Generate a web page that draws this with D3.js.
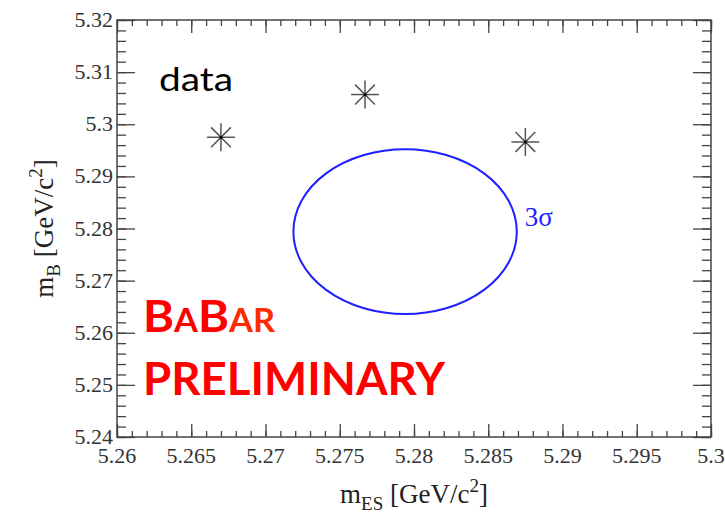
<!DOCTYPE html>
<html>
<head>
<meta charset="utf-8">
<script src="https://cdn.jsdelivr.net/npm/d3@7"></script>
<style>
  html, body { margin: 0; padding: 0; background: #fff; }
  svg { display: block; }
  .serif { font-family: "Liberation Serif", "Tinos", "DejaVu Serif", serif; }
</style>
</head>
<body>
<svg id="chart" width="725" height="516"></svg>
<script>
// Candidate events in the (mES, mB) plane
const eventMES = [5.2670, 5.2767, 5.2875];
const eventMB  = [5.2975, 5.3057, 5.2966];

// 3-sigma signal contour: centre and half-widths
const contourCentre = [5.2794, 5.2794];
const contourHalfWidth = [0.00752, 0.0158];
const contourLabel = "3σ";

// Axis ranges and tick labels
const xDomain = [5.26, 5.30];
const yDomain = [5.24, 5.32];
const xMajorTicks = [5.26, 5.265, 5.27, 5.275, 5.28, 5.285, 5.29, 5.295, 5.30];
const xTickLabels = ["5.26", "5.265", "5.27", "5.275", "5.28", "5.285", "5.29", "5.295", "5.3"];
const yMajorTicks = [5.24, 5.25, 5.26, 5.27, 5.28, 5.29, 5.30, 5.31, 5.32];
const yTickLabels = ["5.24", "5.25", "5.26", "5.27", "5.28", "5.29", "5.3", "5.31", "5.32"];
const xMinorStep = 0.001;
const yMinorStep = 0.002;

const svg = d3.select("#chart");
const plotLeft = 117, plotRight = 711, plotTop = 20, plotBottom = 437;

const x = d3.scaleLinear().domain(xDomain).range([plotLeft, plotRight]);
const y = d3.scaleLinear().domain(yDomain).range([plotBottom, plotTop]);

const axisColor = "#444";
const sans = "Lato, 'Open Sans', sans-serif";

const xMinor = d3.range(Math.round((xDomain[1] - xDomain[0]) / xMinorStep) + 1)
  .map(i => xDomain[0] + i * xMinorStep);
const yMinor = d3.range(Math.round((yDomain[1] - yDomain[0]) / yMinorStep) + 1)
  .map(i => yDomain[0] + i * yMinorStep);

function styleAxis(g) {
  g.select(".domain").remove();
  g.selectAll(".tick line").attr("stroke", axisColor).attr("stroke-width", 1.3);
}

// minor and major ticks on all four sides
svg.append("g").attr("transform", `translate(0,${plotBottom})`)
  .call(d3.axisTop(x).tickValues(xMinor).tickSize(6).tickFormat(""))
  .call(styleAxis);
svg.append("g").attr("transform", `translate(0,${plotBottom})`)
  .call(d3.axisTop(x).tickValues(xMajorTicks).tickSize(13).tickFormat(""))
  .call(styleAxis);
svg.append("g").attr("transform", `translate(0,${plotTop})`)
  .call(d3.axisBottom(x).tickValues(xMinor).tickSize(6).tickFormat(""))
  .call(styleAxis);
svg.append("g").attr("transform", `translate(0,${plotTop})`)
  .call(d3.axisBottom(x).tickValues(xMajorTicks).tickSize(13).tickFormat(""))
  .call(styleAxis);
svg.append("g").attr("transform", `translate(${plotLeft},0)`)
  .call(d3.axisRight(y).tickValues(yMinor).tickSize(9).tickFormat(""))
  .call(styleAxis);
svg.append("g").attr("transform", `translate(${plotLeft},0)`)
  .call(d3.axisRight(y).tickValues(yMajorTicks).tickSize(18).tickFormat(""))
  .call(styleAxis);
svg.append("g").attr("transform", `translate(${plotRight},0)`)
  .call(d3.axisLeft(y).tickValues(yMinor).tickSize(9).tickFormat(""))
  .call(styleAxis);
svg.append("g").attr("transform", `translate(${plotRight},0)`)
  .call(d3.axisLeft(y).tickValues(yMajorTicks).tickSize(18).tickFormat(""))
  .call(styleAxis);

// frame
svg.append("rect")
  .attr("x", plotLeft).attr("y", plotTop)
  .attr("width", plotRight - plotLeft).attr("height", plotBottom - plotTop)
  .attr("fill", "none").attr("stroke", axisColor).attr("stroke-width", 1.5);

// tick labels
svg.append("g").selectAll("text").data(xMajorTicks).join("text")
  .attr("class", "serif")
  .attr("x", d => x(d)).attr("y", plotBottom + 26)
  .attr("text-anchor", "middle")
  .attr("font-size", 22).attr("fill", "#333")
  .text((d, i) => xTickLabels[i]);
svg.append("g").selectAll("text").data(yMajorTicks).join("text")
  .attr("class", "serif")
  .attr("x", plotLeft - 4).attr("y", d => y(d) + 7)
  .attr("text-anchor", "end")
  .attr("font-size", 22).attr("fill", "#333")
  .text((d, i) => yTickLabels[i]);

// axis titles
const xt = svg.append("text")
  .attr("class", "serif")
  .attr("x", (plotLeft + plotRight) / 2).attr("y", 503)
  .attr("text-anchor", "middle")
  .attr("font-size", 27).attr("fill", "#222");
xt.append("tspan").text("m");
xt.append("tspan").attr("font-size", 19).attr("dy", 7).text("ES");
xt.append("tspan").attr("dy", -7).text(" [GeV/c");
xt.append("tspan").attr("font-size", 19).attr("dy", -11).text("2");
xt.append("tspan").attr("dy", 11).text("]");

const yt = svg.append("text")
  .attr("class", "serif")
  .attr("transform", `translate(53,${(plotTop + plotBottom) / 2}) rotate(-90)`)
  .attr("text-anchor", "middle")
  .attr("font-size", 27).attr("fill", "#222");
yt.append("tspan").text("m");
yt.append("tspan").attr("font-size", 19).attr("dy", 7).text("B");
yt.append("tspan").attr("dy", -7).text(" [GeV/c");
yt.append("tspan").attr("font-size", 19).attr("dy", -11).text("2");
yt.append("tspan").attr("dy", 11).text("]");

// 3-sigma contour
svg.append("ellipse")
  .attr("cx", x(contourCentre[0])).attr("cy", y(contourCentre[1]))
  .attr("rx", x(contourCentre[0] + contourHalfWidth[0]) - x(contourCentre[0]))
  .attr("ry", y(contourCentre[1]) - y(contourCentre[1] + contourHalfWidth[1]))
  .attr("fill", "none").attr("stroke", "#1f1fff").attr("stroke-width", 2);
svg.append("text")
  .attr("class", "serif")
  .attr("x", x(contourCentre[0] + contourHalfWidth[0]) + 8)
  .attr("y", y(contourCentre[1]) - 6)
  .attr("font-size", 27).attr("fill", "#1f1fff")
  .text(contourLabel);

// event markers (asterisks)
const armAngles = [0, 45, 90, 135];
const arm = 14;
const markers = svg.append("g").selectAll("g")
  .data(eventMES.map((m, i) => [m, eventMB[i]]))
  .join("g")
  .attr("transform", d => `translate(${x(d[0])},${y(d[1])})`);
markers.selectAll("line").data(armAngles).join("line")
  .attr("x1", a => -arm * Math.cos(a * Math.PI / 180))
  .attr("y1", a => -arm * Math.sin(a * Math.PI / 180))
  .attr("x2", a => arm * Math.cos(a * Math.PI / 180))
  .attr("y2", a => arm * Math.sin(a * Math.PI / 180))
  .attr("stroke", "#555").attr("stroke-width", 1.5);
markers.append("circle").attr("r", 1.5).attr("fill", "#000");

// annotations
svg.append("text")
  .attr("x", 159).attr("y", 91)
  .attr("font-family", sans).attr("font-size", 33)
  .attr("fill", "#000")
  .attr("textLength", 74).attr("lengthAdjust", "spacingAndGlyphs")
  .text("data");

const bb = svg.append("text")
  .attr("x", 143).attr("y", 332)
  .attr("font-family", sans).attr("font-weight", "bold")
  .attr("fill", "#ff0000")
  .attr("textLength", 132).attr("lengthAdjust", "spacingAndGlyphs");
bb.append("tspan").attr("font-size", 44).text("B");
bb.append("tspan").attr("font-size", 32).text("A");
bb.append("tspan").attr("font-size", 44).text("B");
bb.append("tspan").attr("font-size", 32).attr("fill", "#ff2a00").text("AR");

svg.append("text")
  .attr("x", 143).attr("y", 395)
  .attr("font-family", sans).attr("font-weight", "bold")
  .attr("font-size", 46).attr("fill", "#ff0000")
  .attr("textLength", 302).attr("lengthAdjust", "spacingAndGlyphs")
  .text("PRELIMINARY");
</script>
</body>
</html>
